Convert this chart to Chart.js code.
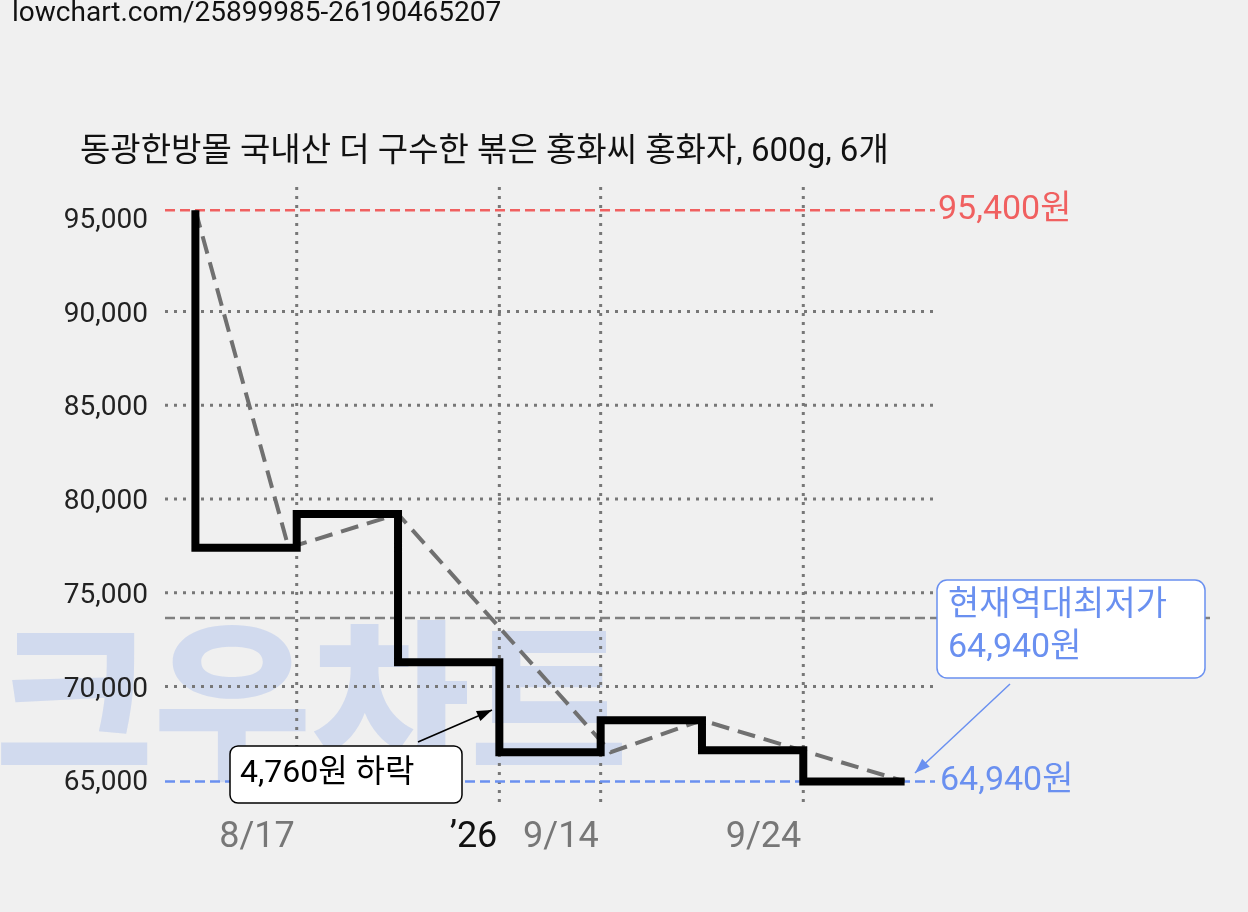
<!DOCTYPE html>
<html><head><meta charset="utf-8">
<script src="https://cdn.jsdelivr.net/npm/chart.js@4/dist/chart.umd.min.js"></script>
<style>html,body{margin:0;background:#f0f0f0}canvas{display:block}</style></head>
<body><canvas id="c" width="1248" height="912"></canvas>
<script>
const stepX = [0,1,2,3,4,5,6,7];
const stepPrices = [95400,77400,79200,71300,66500,68200,66600,64940];
const trendX = [0,0.92,2,4.1,5,7];
const trendPrices = [95400,77400,79200,66500,68200,64940];
const yTicks = [65000,70000,75000,80000,85000,90000,95000];
const xGrid = [1,3,4,6];
const xLabels = [[1,'8/17','#777'],[3,'’26','#111'],[4,'9/14','#777'],[6,'9/24','#777']];
const maxPrice = 95400, minPrice = 64940, avgPrice = 73650;
const F = 'Roboto,"Noto Sans CJK KR",sans-serif';

function box(ctx,x,y,w,h,r,stroke){ctx.beginPath();ctx.roundRect(x,y,w,h,r);ctx.fillStyle='#fff';ctx.fill();ctx.strokeStyle=stroke;ctx.lineWidth=1.5;ctx.stroke();}
function arrow(ctx,x1,y1,x2,y2,c){ctx.strokeStyle=c;ctx.fillStyle=c;ctx.lineWidth=1.5;ctx.beginPath();ctx.moveTo(x1,y1);ctx.lineTo(x2,y2);ctx.stroke();
 const a=Math.atan2(y2-y1,x2-x1),L=16;ctx.beginPath();ctx.moveTo(x2,y2);ctx.lineTo(x2-L*Math.cos(a-0.35),y2-L*Math.sin(a-0.35));ctx.lineTo(x2-L*Math.cos(a+0.35),y2-L*Math.sin(a+0.35));ctx.closePath();ctx.fill();}

const deco = {id:'deco',
 beforeDatasetsDraw(ch){const {ctx,chartArea:a,scales:{x,y}}=ch;ctx.save();
  ctx.fillStyle='rgba(130,160,235,0.28)';ctx.font='900 172px '+F;ctx.textBaseline='alphabetic';ctx.fillText('크우차트',-5,765);
  ctx.strokeStyle='#777';ctx.lineWidth=3;ctx.setLineDash([3,6]);
  yTicks.slice(1,6).forEach(v=>{const p=y.getPixelForValue(v);ctx.beginPath();ctx.moveTo(a.left,p);ctx.lineTo(a.right,p);ctx.stroke();});
  xGrid.forEach(v=>{const p=x.getPixelForValue(v);ctx.beginPath();ctx.moveTo(p,187);ctx.lineTo(p,805);ctx.stroke();});
  ctx.setLineDash([10,5]);ctx.lineWidth=2.5;
  let p=y.getPixelForValue(maxPrice);ctx.strokeStyle='#f06060';ctx.beginPath();ctx.moveTo(a.left,p);ctx.lineTo(a.right,p);ctx.stroke();
  p=y.getPixelForValue(avgPrice);ctx.strokeStyle='#808080';ctx.beginPath();ctx.moveTo(a.left,p);ctx.lineTo(1215,p);ctx.stroke();
  p=y.getPixelForValue(minPrice);ctx.strokeStyle='#6a90f0';ctx.beginPath();ctx.moveTo(a.left,p);ctx.lineTo(a.right,p);ctx.stroke();
  ctx.restore();},
 afterDatasetsDraw(ch){const {ctx,chartArea:a,scales:{x,y}}=ch;ctx.save();
  ctx.font='28px '+F;ctx.fillStyle='#111';ctx.textBaseline='top';ctx.fillText('lowchart.com/25899985-26190465207',12,0);
  ctx.font='33px '+F;ctx.textBaseline='middle';ctx.fillText('동광한방몰 국내산 더 구수한 볶은 홍화씨 홍화자, 600g, 6개',80,153);
  ctx.font='28px '+F;ctx.textAlign='right';ctx.fillStyle='#222';
  yTicks.forEach(v=>ctx.fillText(v.toLocaleString('en-US'),148,y.getPixelForValue(v)+3));
  ctx.font='36px '+F;ctx.textBaseline='middle';
  xLabels.forEach(([v,t,c])=>{ctx.fillStyle=c;ctx.fillText(t,x.getPixelForValue(v)-2,838);});
  ctx.textAlign='left';ctx.font='34px '+F;
  ctx.fillStyle='#f06060';ctx.fillText('95,400원',938,y.getPixelForValue(maxPrice));
  ctx.fillStyle='#6a90f0';ctx.fillText('64,940원',940,y.getPixelForValue(minPrice));
  arrow(ctx,418,742,492,710,'#000');
  box(ctx,230,746,232,57,8,'#000');ctx.fillStyle='#000';ctx.font='32px '+F;ctx.fillText('4,760원 하락',240,774);
  arrow(ctx,1010,684,915,773,'#6a90f0');
  box(ctx,937,580,268,98,10,'#6a90f0');ctx.fillStyle='#6a90f0';ctx.font='34px '+F;
  ctx.fillText('현재역대최저가',948,606);ctx.fillText('64,940원',948,648);
  ctx.restore();}
};

new Chart(document.getElementById('c'),{type:'scatter',
 data:{datasets:[
  {data:stepX.map((v,i)=>({x:v,y:stepPrices[i]})),showLine:true,stepped:'after',borderColor:'#000',borderWidth:8,pointRadius:0,order:1},
  {data:trendX.map((v,i)=>({x:v,y:trendPrices[i]})),showLine:true,borderColor:'#707070',borderWidth:4,borderDash:[18,9],pointRadius:0,order:2}
 ]},
 options:{responsive:false,animation:false,layout:{padding:{left:165,right:313,top:199,bottom:113}},
  plugins:{legend:{display:false},tooltip:{enabled:false}},
  scales:{x:{type:'linear',min:-0.3,max:7.3,display:false},y:{min:64000,max:96000,display:false}}},
 plugins:[deco]});
</script></body></html>
